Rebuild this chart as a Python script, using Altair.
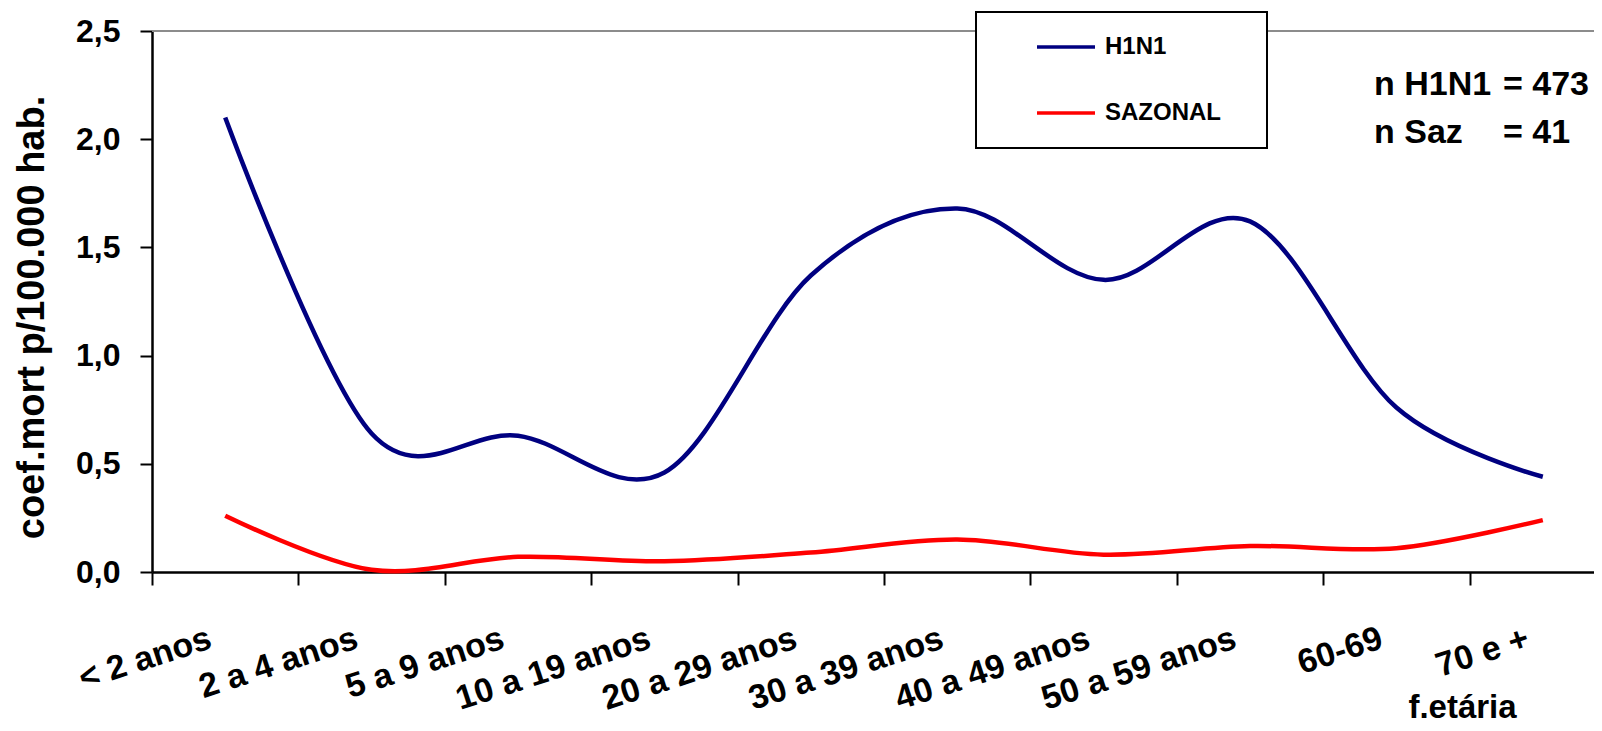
import json
import altair as alt
import pandas as pd

# ---- data ----
faixas = ["< 2 anos", "2 a 4 anos", "5 a 9 anos", "10 a 19 anos", "20 a 29 anos",
          "30 a 39 anos", "40 a 49 anos", "50 a 59 anos", "60-69", "70 e +"]
h1n1 = [2.10, 0.64, 0.63, 0.46, 1.37, 1.68, 1.35, 1.62, 0.76, 0.44]
sazonal = [0.26, 0.01, 0.07, 0.05, 0.09, 0.15, 0.08, 0.12, 0.11, 0.24]
series = ["H1N1", "SAZONAL"]
cores = ["#000080", "#FF0000"]
y_ticks = [0.0, 0.5, 1.0, 1.5, 2.0, 2.5]
notas_esq = ["n H1N1", "n Saz"]
notas_dir = ["= 473", "= 41"]
titulo_y = "coef.mort p/100.000 hab."
titulo_x = "f.etária"

rows = []
for i, f in enumerate(faixas):
    rows.append({"idx": i, "faixa": f, "serie": series[0], "valor": h1n1[i]})
    rows.append({"idx": i, "faixa": f, "serie": series[1], "valor": sazonal[i]})
df = pd.DataFrame(rows)

FONT = "Liberation Sans"
BAND = 146.4
W = 1442
H = 541
x_dom = [-0.5, -0.5 + W / BAND]
tick_vals = [i - 0.5 for i in range(len(faixas))]
label_expr = json.dumps(faixas, ensure_ascii=False) + "[round(datum.value + 0.5)]"

x_enc = alt.X(
    "idx:Q",
    scale=alt.Scale(domain=x_dom, nice=False, zero=False),
    axis=alt.Axis(
        values=tick_vals, labelExpr=label_expr, title=titulo_x,
        labelAngle=342, labelAlign="right", labelBaseline="alphabetic",
        labelPadding=62, labelOffset=61, labelFlush=False, labelOverlap=False,
        labelBound=False, labelLimit=600,
        labelFont=FONT, labelFontSize=34, labelFontWeight="bold", labelColor="black",
        tickSize=13, tickWidth=2, tickColor="black",
        domainColor="black", domainWidth=2.5, grid=False,
        titleFont=FONT, titleFontSize=33, titleFontWeight="bold", titleColor="black",
        titleX=1310, titleY=145, titleAlign="center", titleBaseline="alphabetic",
        titleAngle=0,
    ),
)
y_enc = alt.Y(
    "valor:Q",
    scale=alt.Scale(domain=[0, 2.5], nice=False),
    axis=alt.Axis(
        values=y_ticks,
        labelExpr="replace(format(datum.value, '.1f'), '.', ',')",
        title=titulo_y,
        labelFont=FONT, labelFontSize=32, labelFontWeight="bold", labelColor="black",
        labelPadding=20, tickSize=12, tickWidth=2, tickColor="black",
        domainColor="black", domainWidth=2.5, grid=False,
        titleFont=FONT, titleFontSize=38, titleFontWeight="bold", titleColor="black",
        titleAngle=270, titleX=-109, titleY=286, titleAlign="center",
        titleBaseline="alphabetic",
    ),
)

topo = alt.Chart(df).mark_rule(color="#8c8c8c", strokeWidth=2).encode(
    y=alt.datum(2.5)
)

# legend frame (decoration only)
caixa = alt.Chart(pd.DataFrame({"s": series[:1]})).mark_rect(
    fill="white", stroke="black", strokeWidth=2
).encode(
    x=alt.value(824), x2=alt.value(1115), y=alt.value(-19), y2=alt.value(117)
)

linhas = alt.Chart(df).mark_line(interpolate="cardinal", strokeWidth=4.5).encode(
    x=x_enc,
    y=y_enc,
    color=alt.Color(
        "serie:N",
        scale=alt.Scale(domain=series, range=cores),
        legend=alt.Legend(
            orient="none", legendX=824, legendY=-21, title=None,
            symbolType="stroke", symbolSize=3364, symbolStrokeWidth=3.5,
            labelFont=FONT, labelFontSize=24, labelFontWeight="bold",
            labelColor="black", labelOffset=8, rowPadding=23, padding=6,
            symbolOffset=53,
        ),
    ),
)

nota1 = alt.Chart(pd.DataFrame({"t": ["\n".join(notas_esq)]})).mark_text(
    align="left", baseline="alphabetic", font=FONT, fontSize=34,
    fontWeight="bold", lineBreak="\n", lineHeight=48, color="black",
).encode(text="t:N", x=alt.value(1222), y=alt.value(64))

nota2 = alt.Chart(pd.DataFrame({"t": ["\n".join(notas_dir)]})).mark_text(
    align="left", baseline="alphabetic", font=FONT, fontSize=34,
    fontWeight="bold", lineBreak="\n", lineHeight=48, color="black",
).encode(text="t:N", x=alt.value(1351), y=alt.value(64))

chart = alt.layer(topo, caixa, linhas, nota1, nota2).properties(
    width=W, height=H,
    padding={"left": 144, "top": 23, "right": 0, "bottom": 151},
    autosize=alt.AutoSizeParams(type="none"),
    background="white",
).configure_view(stroke=None)

chart.save("out.html", embed_options={"renderer": "svg", "actions": False})
